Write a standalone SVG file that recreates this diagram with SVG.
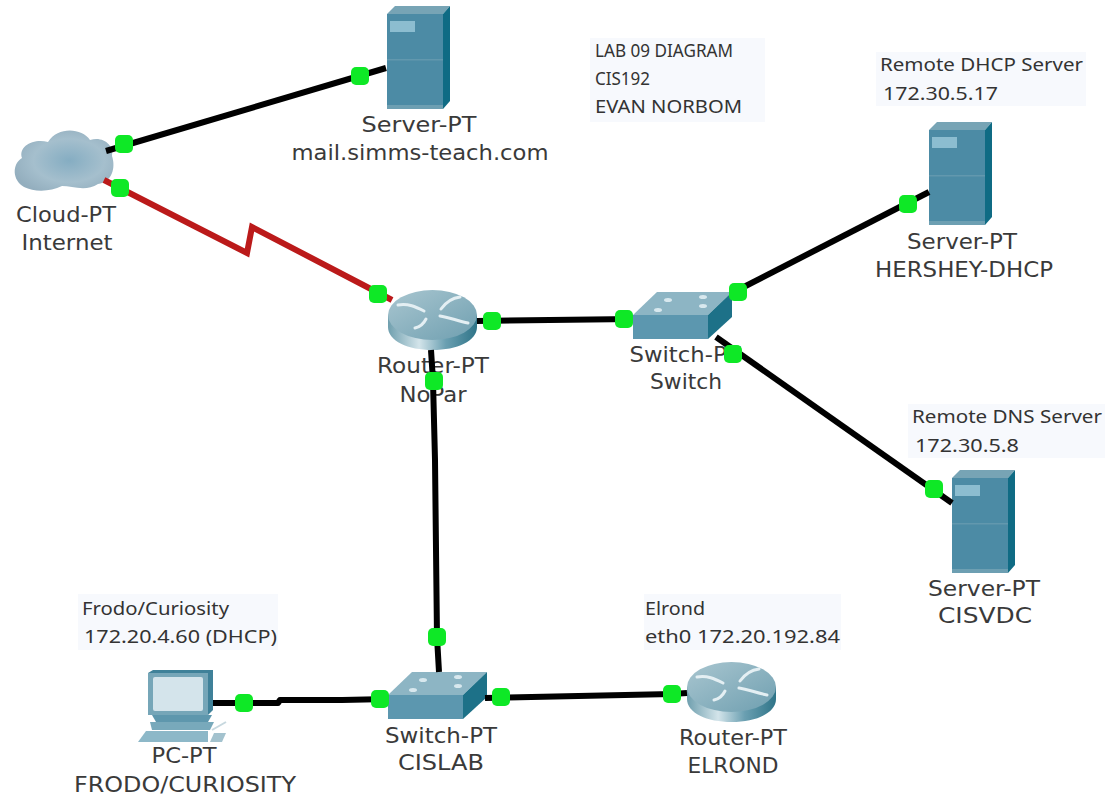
<svg xmlns="http://www.w3.org/2000/svg" width="1105" height="796" viewBox="0 0 1105 796">
<style>
.lb{font-family:"DejaVu Sans",sans-serif;font-size:20.5px;fill:#3a3a3a;text-anchor:middle}
.an{font-family:"Noto Sans","DejaVu Sans",sans-serif;font-size:18px;fill:#333}
.bg{fill:#f7f9fd}
.c{fill:none;stroke:#000;stroke-width:6;stroke-linejoin:round}
.r{fill:none;stroke:#bb1a1a;stroke-width:6;stroke-linejoin:miter}
.d{fill:#0ee826}
</style>
<defs>
<linearGradient id="rg" x1="0" x2="1" y1="0" y2="0">
<stop offset="0" stop-color="#6f9fae"/><stop offset=".35" stop-color="#d3e4ea"/><stop offset=".65" stop-color="#6a9fb1"/><stop offset="1" stop-color="#2f7488"/>
</linearGradient>
<linearGradient id="rt" x1="0" x2="1" y1="0" y2="1">
<stop offset="0" stop-color="#a9c6d0"/><stop offset="1" stop-color="#6f9fb0"/>
</linearGradient>
<radialGradient id="cg" cx=".55" cy=".5" r=".6">
<stop offset="0" stop-color="#85adc2"/><stop offset=".6" stop-color="#a5bfcd"/><stop offset="1" stop-color="#93aebe"/>
</radialGradient>
<g id="server">
<path d="M0 0L8-8H63L56 0Z" fill="#77a4b5"/>
<path d="M56 0L63-8V87L56 95Z" fill="#0f6b84"/>
<rect width="56" height="95" fill="#4c8ba5"/>
<rect y="91" width="56" height="4" fill="#6d9fb2"/>
<rect y="45" width="56" height="1.500" fill="#6298ae"/>
<rect x="3" y="7" width="25" height="11" fill="#8cbdd0"/>
</g>
<g id="router">
<path d="M0 25V37C0 51 20 60 44.500 60S89 51 89 37V25Z" fill="url(#rg)"/>
<ellipse cx="44.500" cy="25" rx="44.500" ry="25" fill="url(#rt)"/>
<g fill="none" stroke="#e4eff3" stroke-width="3" stroke-linecap="round">
<path d="M10 15C20 13 28 17 36 21"/><path d="M53 19C58 12 64 8 72 7"/><path d="M52 26C60 27 70 31 80 33"/><path d="M27 38C32 37 36 33 38 29"/>
</g>
</g>
<g id="switch">
<path d="M0 23L24 0H99L75 23Z" fill="#8db5c4"/>
<path d="M75 23L99 0V25L75 47Z" fill="#1d7188"/>
<rect y="23" width="75" height="24" fill="#5c97af"/>
<g fill="#d8e8ee"><ellipse cx="35" cy="8" rx="4" ry="2"/><ellipse cx="70" cy="5" rx="4" ry="2"/><ellipse cx="25" cy="18" rx="4" ry="2"/><ellipse cx="70" cy="14" rx="4" ry="2"/></g>
</g>
</defs>
<rect width="1105" height="796" fill="#ffffff"/>

<g id="notes-bg">
<rect class="bg" x="590" y="38" width="175" height="84"/>
<rect class="bg" x="876" y="52" width="210" height="54"/>
<rect class="bg" x="908" y="404" width="197" height="54"/>
<rect class="bg" x="78" y="594" width="200" height="56"/>
<rect class="bg" x="644" y="594" width="197" height="56"/>
</g>

<g id="cloud">
<path d="M24 187C12 180 12 164 22 158C18 146 34 138 48 142C58 126 82 128 90 140C104 136 114 146 112 156C116 168 112 182 98 184C86 192 72 186 62 186C50 192 34 192 24 187Z" fill="url(#cg)"/>
<text class="lb" x="66" y="222" textLength="100" lengthAdjust="spacingAndGlyphs">Cloud-PT</text>
<text class="lb" x="67" y="250" textLength="91" lengthAdjust="spacingAndGlyphs">Internet</text>
</g>

<g id="server-mail">
<use href="#server" x="387" y="14"/>
<text class="lb" x="419" y="132" textLength="115" lengthAdjust="spacingAndGlyphs">Server-PT</text>
<text class="lb" x="420" y="160" textLength="257" lengthAdjust="spacingAndGlyphs">mail.simms-teach.com</text>
</g>

<g id="router-nopar">
<use href="#router" x="388" y="290"/>
<text class="lb" x="433" y="373" textLength="112" lengthAdjust="spacingAndGlyphs">Router-PT</text>
<text class="lb" x="433" y="402" textLength="67" lengthAdjust="spacingAndGlyphs">NoPar</text>
</g>

<g id="switch-main">
<use href="#switch" x="633" y="292"/>
<text class="lb" x="685" y="362" textLength="111" lengthAdjust="spacingAndGlyphs">Switch-PT</text>
<text class="lb" x="686" y="389" textLength="72" lengthAdjust="spacingAndGlyphs">Switch</text>
</g>

<g id="server-hershey">
<use href="#server" x="929" y="130"/>
<text class="lb" x="962" y="249" textLength="110" lengthAdjust="spacingAndGlyphs">Server-PT</text>
<text class="lb" x="964" y="277" textLength="178" lengthAdjust="spacingAndGlyphs">HERSHEY-DHCP</text>
</g>

<g id="server-cisvdc">
<use href="#server" x="952" y="478"/>
<text class="lb" x="984" y="596" textLength="112" lengthAdjust="spacingAndGlyphs">Server-PT</text>
<text class="lb" x="985" y="623" textLength="94" lengthAdjust="spacingAndGlyphs">CISVDC</text>
</g>

<g id="pc">
<path d="M148 673L153 670H213V710L208 715H148Z" fill="#3f8199"/>
<rect x="148" y="673" width="60" height="42" fill="#76a6b8"/>
<rect x="153" y="677" width="50" height="34" rx="2" fill="#d4e4eb"/>
<path d="M152 715H212L208 722H156Z" fill="#5e97ad"/>
<path d="M150 722H214L210 730H152Z" fill="#78a9bb"/>
<path d="M146 731H208V742H138Z" fill="#8db8c8"/>
<path d="M212 730L226 722" stroke="#c7d8df" stroke-width="2" fill="none"/>
<path d="M214 733H226L222 742H210Z" fill="#a3c2ce"/>
<text class="lb" x="184" y="763" textLength="65" lengthAdjust="spacingAndGlyphs">PC-PT</text>
<text class="lb" x="185" y="792" textLength="222" lengthAdjust="spacingAndGlyphs">FRODO/CURIOSITY</text>
</g>

<g id="switch-cislab">
<use href="#switch" x="388" y="672"/>
<text class="lb" x="441" y="743" textLength="112" lengthAdjust="spacingAndGlyphs">Switch-PT</text>
<text class="lb" x="441" y="770" textLength="86" lengthAdjust="spacingAndGlyphs">CISLAB</text>
</g>

<g id="router-elrond">
<use href="#router" x="687" y="662"/>
<text class="lb" x="733" y="745" textLength="108" lengthAdjust="spacingAndGlyphs">Router-PT</text>
<text class="lb" x="733" y="773" textLength="91" lengthAdjust="spacingAndGlyphs">ELROND</text>
</g>

<g id="connectors">
<path class="c" d="M106 151L386 68"/>
<path class="r" d="M104 180L247 253L252 227L392 300"/>
<path class="c" d="M477 321L633 319"/>
<path class="c" d="M431 350L433 381L435 460L437 637L439 672"/>
<path class="c" d="M732 293L929 192"/>
<path class="c" d="M716 337L952 503"/>
<path class="c" d="M213 703L278 703L280 700L342 700L388 699"/>
<path class="c" d="M485 698L672 694L687 693"/>
</g>

<g id="links">
<rect class="d" x="115" y="135" width="18" height="18" rx="5"/>
<rect class="d" x="111" y="179" width="18" height="18" rx="5"/>
<rect class="d" x="351" y="67" width="18" height="18" rx="5"/>
<rect class="d" x="369" y="285" width="18" height="18" rx="5"/>
<rect class="d" x="483" y="312" width="18" height="18" rx="5"/>
<rect class="d" x="615" y="310" width="18" height="18" rx="5"/>
<rect class="d" x="425" y="372" width="18" height="18" rx="5"/>
<rect class="d" x="729" y="283" width="18" height="18" rx="5"/>
<rect class="d" x="899" y="195" width="18" height="18" rx="5"/>
<rect class="d" x="724" y="345" width="18" height="18" rx="5"/>
<rect class="d" x="925" y="480" width="18" height="18" rx="5"/>
<rect class="d" x="235" y="694" width="18" height="18" rx="5"/>
<rect class="d" x="371" y="690" width="18" height="18" rx="5"/>
<rect class="d" x="428" y="628" width="18" height="18" rx="5"/>
<rect class="d" x="492" y="688" width="18" height="18" rx="5"/>
<rect class="d" x="663" y="685" width="18" height="18" rx="5"/>
</g>

<g id="notes">
<text class="an" x="595" y="57" textLength="138" lengthAdjust="spacingAndGlyphs">LAB 09 DIAGRAM</text>
<text class="an" x="595" y="85" textLength="55" lengthAdjust="spacingAndGlyphs">CIS192</text>
<text class="an" x="595" y="113" textLength="147" lengthAdjust="spacingAndGlyphs">EVAN NORBOM</text>
<text class="an" x="880" y="71" textLength="203" lengthAdjust="spacingAndGlyphs">Remote DHCP Server</text>
<text class="an" x="883" y="100" textLength="115" lengthAdjust="spacingAndGlyphs">172.30.5.17</text>
<text class="an" x="912" y="423" textLength="190" lengthAdjust="spacingAndGlyphs">Remote DNS Server</text>
<text class="an" x="915" y="452" textLength="104" lengthAdjust="spacingAndGlyphs">172.30.5.8</text>
<text class="an" x="82" y="615" textLength="147" lengthAdjust="spacingAndGlyphs">Frodo/Curiosity</text>
<text class="an" x="84" y="643" textLength="193" lengthAdjust="spacingAndGlyphs">172.20.4.60 (DHCP)</text>
<text class="an" x="645" y="615" textLength="60" lengthAdjust="spacingAndGlyphs">Elrond</text>
<text class="an" x="645" y="643" textLength="195" lengthAdjust="spacingAndGlyphs">eth0 172.20.192.84</text>
</g>
</svg>
